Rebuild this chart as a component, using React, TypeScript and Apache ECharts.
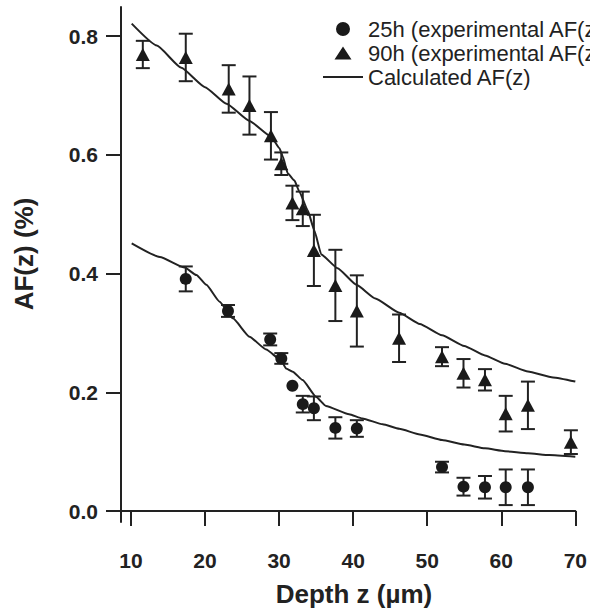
import React, { useEffect, useRef } from "react";
import * as echarts from "echarts";

// ---- data ----
const X_TICKS = [10, 20, 30, 40, 50, 60, 70];
const Y_TICKS = [0, 0.2, 0.4, 0.6, 0.8];

const CIRCLE_X = [17.4, 23.1, 28.8, 30.3, 31.8, 33.2, 34.7, 37.6, 40.5, 52.0, 54.9, 57.8, 60.6, 63.6];
const CIRCLE_Y = [0.391, 0.337, 0.289, 0.257, 0.211, 0.18, 0.173, 0.14, 0.139, 0.074, 0.041, 0.04, 0.04, 0.04];
const CIRCLE_ERR = [0.021, 0.01, 0.01, 0.009, 0, 0.014, 0.02, 0.018, 0.014, 0.009, 0.015, 0.019, 0.03, 0.03];

const TRI_X = [11.6, 17.4, 23.2, 26.0, 28.9, 30.3, 31.8, 33.2, 34.7, 37.6, 40.5, 46.2, 52.0, 54.9, 57.8, 60.6, 63.6, 69.4];
const TRI_Y = [0.769, 0.764, 0.711, 0.683, 0.632, 0.585, 0.519, 0.509, 0.439, 0.38, 0.337, 0.291, 0.26, 0.232, 0.221, 0.164, 0.178, 0.116];
const TRI_ERR = [0.023, 0.04, 0.04, 0.049, 0.04, 0.019, 0.029, 0.029, 0.06, 0.06, 0.06, 0.04, 0.016, 0.024, 0.018, 0.03, 0.04, 0.02];

const CALC90_X = [10.1, 13.5, 16.8, 20.0, 22.9, 26.0, 28.9, 30.05, 30.5, 31.16, 32.06, 32.74, 33.85, 34.75, 35.7, 37.9, 40.45, 43.0, 46.23, 49.0, 52.0, 55.0, 57.8, 60.5, 63.6, 67.0, 70.0];
const CALC90_Y = [0.821, 0.784, 0.7465, 0.714, 0.686, 0.657, 0.631, 0.611, 0.597, 0.569, 0.557, 0.538, 0.507, 0.473, 0.432, 0.409, 0.381, 0.358, 0.334, 0.315, 0.296, 0.278, 0.262, 0.248, 0.235, 0.225, 0.218];

const CALC25_X = [10.1, 13.9, 17.26, 18.84, 20.18, 21.97, 23.77, 26.0, 28.26, 30.27, 30.94, 31.84, 33.18, 34.98, 36.33, 39.46, 41.25, 44.0, 46.23, 49.0, 52.0, 55.0, 57.8, 60.5, 63.6, 66.5, 70.0];
const CALC25_Y = [0.451, 0.428, 0.41, 0.3975, 0.381, 0.3525, 0.3245, 0.2936, 0.272, 0.254, 0.24, 0.2346, 0.2206, 0.1925, 0.177, 0.163, 0.156, 0.146, 0.1385, 0.129, 0.1196, 0.112, 0.1056, 0.1008, 0.0972, 0.0942, 0.0915];

const NAME_25 = "25h (experimental AF(z))";
const NAME_90 = "90h (experimental AF(z))";
const NAME_CALC = "Calculated AF(z)";

const INK = "#222";
const FONT = '"Liberation Sans", Arial, Helvetica, sans-serif';

const zip = (xs: number[], ys: number[]) => xs.map((x, i) => [x, ys[i]]);
const errData = (xs: number[], ys: number[], es: number[]) =>
  xs.map((x, i) => [x, ys[i] - es[i], ys[i] + es[i]]);

const errRender = (params: any, api: any) => {
  const x = api.value(0);
  const lo = api.value(1);
  const hi = api.value(2);
  if (hi - lo <= 0) return { type: "group", children: [] };
  const p1 = api.coord([x, lo]);
  const p2 = api.coord([x, hi]);
  const hw = 7;
  const st = { stroke: INK, lineWidth: 2 };
  return {
    type: "group",
    children: [
      { type: "line", shape: { x1: p1[0], y1: p1[1], x2: p2[0], y2: p2[1] }, style: st },
      { type: "line", shape: { x1: p1[0] - hw, y1: p1[1], x2: p1[0] + hw, y2: p1[1] }, style: st },
      { type: "line", shape: { x1: p2[0] - hw, y1: p2[1], x2: p2[0] + hw, y2: p2[1] }, style: st },
    ],
  };
};

// legend icons drawn inside a 40x14 box
const ICON_LINE = "path://M0,0L0,0ZM40,14L40,14ZM0,6L40,6L40,8L0,8Z";
const ICON_TRI = "path://M0,0L0,0ZM40,14L40,14ZM11.5,13.5L20,0.5L28.5,13.5Z";
const ICON_CIRCLE = "path://M0,0L0,0ZM40,14L40,14ZM27,7A7,7,0,1,1,13,7A7,7,0,1,1,27,7Z";

export default function App() {
  const ref = useRef<HTMLDivElement>(null);
  useEffect(() => {
    if (!ref.current) return;
    const chart = echarts.init(ref.current, null, { renderer: "svg" });
    const axisCommon = {
      axisLine: { show: true, lineStyle: { color: INK, width: 2 } },
      axisTick: { show: true, length: 15, lineStyle: { color: INK, width: 2 } },
      splitLine: { show: false },
    };
    chart.setOption({
      animation: false,
      backgroundColor: "#fff",
      grid: { left: 121, right: 13, top: 7, bottom: 88, containLabel: false },
      xAxis: {
        type: "value",
        min: 8.655,
        max: 70,
        ...axisCommon,
        axisTick: { ...axisCommon.axisTick, customValues: X_TICKS },
        axisLabel: {
          customValues: X_TICKS,
          margin: 28,
          fontSize: 21,
          fontWeight: "bold",
          fontFamily: FONT,
          color: INK,
        },
      },
      yAxis: {
        type: "value",
        min: -0.0185,
        max: 0.849,
        ...axisCommon,
        axisTick: { ...axisCommon.axisTick, customValues: Y_TICKS },
        axisLabel: {
          customValues: Y_TICKS,
          margin: 23,
          fontSize: 21,
          fontWeight: "bold",
          fontFamily: FONT,
          color: INK,
          formatter: (v: number) => v.toFixed(1),
        },
      },
      legend: {
        orient: "vertical",
        left: 318,
        top: 12,
        itemWidth: 40,
        itemHeight: 14,
        itemGap: 0,
        selectedMode: false,
        textStyle: {
          fontSize: 22,
          lineHeight: 24,
          fontFamily: FONT,
          color: INK,
          padding: [0, 0, 0, 0],
        },
        data: [
          { name: NAME_25, icon: ICON_CIRCLE },
          { name: NAME_90, icon: ICON_TRI },
          { name: NAME_CALC, icon: ICON_LINE },
        ],
      },
      graphic: [
        {
          type: "text",
          x: 354,
          y: 594,
          style: {
            text: "Depth z (µm)",
            fontSize: 26,
            fontWeight: "bold",
            fontFamily: FONT,
            fill: INK,
            align: "center",
            verticalAlign: "middle",
          },
        },
        {
          type: "text",
          x: 24,
          y: 254,
          rotation: Math.PI / 2,
          style: {
            text: "AF(z) (%)",
            fontSize: 26,
            fontWeight: "bold",
            fontFamily: FONT,
            fill: INK,
            align: "center",
            verticalAlign: "middle",
          },
        },
      ],
      series: [
        {
          type: "custom",
          name: "err25",
          renderItem: errRender,
          data: errData(CIRCLE_X, CIRCLE_Y, CIRCLE_ERR),
          encode: { x: 0, y: [1, 2] },
          z: 1,
          silent: true,
        },
        {
          type: "custom",
          name: "err90",
          renderItem: errRender,
          data: errData(TRI_X, TRI_Y, TRI_ERR),
          encode: { x: 0, y: [1, 2] },
          z: 1,
          silent: true,
        },
        {
          type: "line",
          name: NAME_CALC,
          data: zip(CALC90_X, CALC90_Y),
          symbol: "none",
          smooth: 0.15,
          smoothMonotone: "x",
          lineStyle: { color: INK, width: 2 },
          itemStyle: { color: INK },
          z: 2,
        },
        {
          type: "line",
          name: NAME_CALC,
          data: zip(CALC25_X, CALC25_Y),
          symbol: "none",
          smooth: 0.15,
          smoothMonotone: "x",
          lineStyle: { color: INK, width: 2 },
          itemStyle: { color: INK },
          z: 2,
        },
        {
          type: "scatter",
          name: NAME_25,
          data: zip(CIRCLE_X, CIRCLE_Y),
          symbol: "circle",
          symbolSize: 12,
          itemStyle: { color: "#1a1a1a", opacity: 1 },
          z: 3,
        },
        {
          type: "scatter",
          name: NAME_90,
          data: zip(TRI_X, TRI_Y),
          symbol: "triangle",
          symbolSize: [14, 13],
          itemStyle: { color: "#1a1a1a", opacity: 1 },
          z: 3,
        },
      ],
    });
    return () => chart.dispose();
  }, []);
  return (
    <div
      ref={ref}
      style={{ position: "absolute", left: 0, top: 0, width: 590, height: 610 }}
    />
  );
}
